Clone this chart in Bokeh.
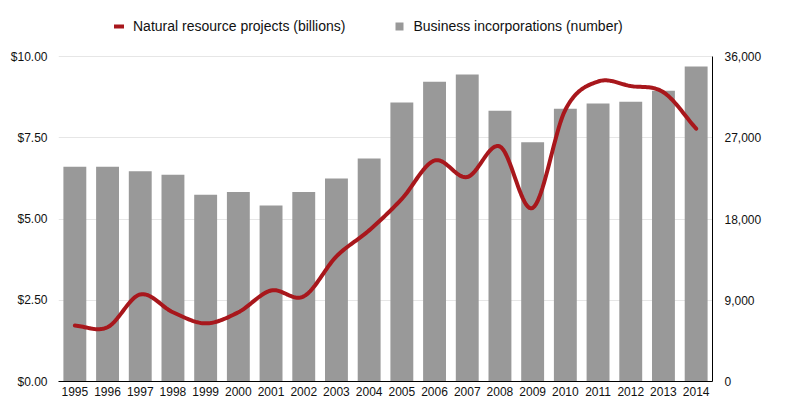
import numpy as np
from bokeh.plotting import figure
from bokeh.models import (Range1d, LinearAxis, FixedTicker, NumeralTickFormatter,
                          Legend, LegendItem)
from bokeh.embed import file_html
from bokeh.resources import INLINE

years = list(range(1995, 2015))
resource_projects = [1.72, 1.67, 2.68, 2.13, 1.79, 2.13, 2.80, 2.62, 3.85, 4.65,
                     5.62, 6.80, 6.29, 7.23, 5.34, 8.36, 9.23, 9.09, 8.90, 7.78]
business_incorporations = [23800, 23800, 23300, 22900, 20700, 21000, 19500, 21000, 22500, 24700,
                           30900, 33200, 34000, 30000, 26500, 30200, 30800, 31000, 32200, 34900]
left_ticks = [0, 2.5, 5, 7.5, 10]
right_ticks = [0, 9000, 18000, 27000, 36000]

FONT = "Liberation Sans"
RED = "#a8171c"

# the frame runs up to the top so the legend can sit inside it;
# axes keep to the 0..max part (325px of a 371px tall frame)
HEADROOM = 371 / 325
LEFT_MAX = 10
RIGHT_MAX = 36000


def smooth(xs, ys, steps=20):
    # catmull-rom through the points, the original chart draws a smoothed line
    x = np.asarray(xs, float)
    y = np.asarray(ys, float)
    px = np.concatenate([[2 * x[0] - x[1]], x, [2 * x[-1] - x[-2]]])
    py = np.concatenate([[2 * y[0] - y[1]], y, [2 * y[-1] - y[-2]]])
    t = np.linspace(0, 1, steps, endpoint=False)
    out_x, out_y = [], []
    for i in range(1, len(px) - 2):
        for arr, out in ((px, out_x), (py, out_y)):
            p0, p1, p2, p3 = arr[i - 1:i + 3]
            out.extend(0.5 * (2 * p1 + (p2 - p0) * t
                              + (2 * p0 - 5 * p1 + 4 * p2 - p3) * t ** 2
                              + (3 * p1 - p0 - 3 * p2 + p3) * t ** 3))
    out_x.append(x[-1])
    out_y.append(y[-1])
    return out_x, out_y


p = figure(width=777, height=411, output_backend="svg", toolbar_location=None,
           x_range=Range1d(1994.5, 2014.5), y_range=Range1d(0, LEFT_MAX * HEADROOM),
           min_border_left=58, min_border_right=65, min_border_top=10, min_border_bottom=30)
p.extra_y_ranges = {"count": Range1d(0, RIGHT_MAX * HEADROOM)}
p.outline_line_color = None
p.xgrid.visible = False
p.ygrid.grid_line_color = "#e6e6e6"
p.ygrid.ticker = FixedTicker(ticks=left_ticks)

bars = p.vbar(x=years, top=business_incorporations, width=0.7, y_range_name="count",
              fill_color="#999999", line_color=None)
xs, ys = smooth(years, resource_projects)
line = p.line(xs, ys, line_color=RED, line_width=4, line_cap="round", line_join="round")

right = LinearAxis(y_range_name="count")
p.add_layout(right, "right")

for ax in (p.xaxis[0], p.yaxis[0], right):
    ax.major_tick_in = 0
    ax.major_tick_out = 0
    ax.minor_tick_line_color = None
    ax.major_tick_line_color = None
    ax.major_label_text_font = FONT
    ax.major_label_text_font_size = "12px"
    ax.major_label_text_color = "#111111"

p.xaxis.ticker = FixedTicker(ticks=years)
p.xaxis.axis_line_color = "black"
p.xaxis.major_label_standoff = 5

p.yaxis[0].ticker = FixedTicker(ticks=left_ticks)
p.yaxis[0].formatter = NumeralTickFormatter(format="$0.00")
p.yaxis[0].axis_line_color = None
p.yaxis[0].major_label_standoff = 11
p.yaxis[0].bounds = (0, LEFT_MAX)

right.ticker = FixedTicker(ticks=right_ticks)
right.formatter = NumeralTickFormatter(format="0,0")
right.axis_line_color = "black"
right.major_label_standoff = 12
right.bounds = (0, RIGHT_MAX)

legend = Legend(items=[LegendItem(label="Natural resource projects (billions)", renderers=[line]),
                       LegendItem(label="Business incorporations (number)", renderers=[bars])],
                orientation="horizontal", location=(56, 347),
                padding=0, margin=0, spacing=49, label_standoff=9,
                glyph_width=10, glyph_height=10, label_height=14,
                label_text_font=FONT, label_text_font_size="14px", label_text_color="#111111",
                border_line_color=None, background_fill_alpha=0)
p.add_layout(legend)

open("out.html", "w").write(file_html(p, INLINE))
